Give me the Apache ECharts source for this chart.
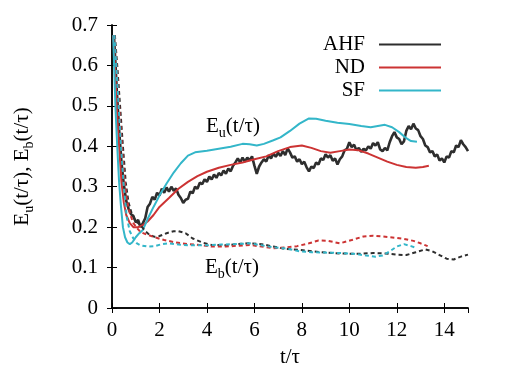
<!DOCTYPE html>
<html>
<head>
<meta charset="utf-8">
<script src="https://cdn.jsdelivr.net/npm/echarts@6/dist/echarts.min.js"></script>
<style>
    html, body { margin: 0; padding: 0; background: #fff; }
    #chart { width: 509px; height: 382px; }
</style>
</head>
<body>
<div id="chart"></div>
<script>
// E_u(t/tau), solid lines  ([t/tau, value])
const ahfEu = [[0.08,0.675],[0.15,0.6],[0.2,0.54],[0.3,0.44],[0.4,0.36],[0.5,0.305],[0.6,0.265],[0.7,0.245],[0.8,0.232],[0.9,0.228],[1.0,0.212],[1.1,0.218],[1.2,0.2],[1.3,0.21],[1.4,0.222],[1.5,0.25],[1.6,0.258],[1.7,0.275],[1.8,0.268],[1.9,0.285],[2.0,0.278],[2.1,0.295],[2.2,0.285],[2.3,0.298],[2.4,0.288],[2.5,0.3],[2.6,0.29],[2.7,0.296],[2.8,0.28],[2.9,0.272],[3.0,0.26],[3.1,0.268],[3.2,0.27],[3.3,0.288],[3.4,0.284],[3.5,0.3],[3.6,0.295],[3.7,0.31],[3.8,0.306],[3.9,0.318],[4.0,0.312],[4.1,0.325],[4.2,0.318],[4.3,0.33],[4.4,0.322],[4.5,0.334],[4.6,0.328],[4.7,0.34],[4.8,0.332],[4.9,0.345],[5.0,0.338],[5.1,0.352],[5.2,0.36],[5.3,0.37],[5.4,0.36],[5.5,0.372],[5.6,0.362],[5.7,0.372],[5.8,0.365],[5.9,0.375],[6.0,0.352],[6.1,0.332],[6.2,0.35],[6.3,0.36],[6.4,0.368],[6.5,0.362],[6.6,0.378],[6.7,0.37],[6.8,0.382],[6.9,0.374],[7.0,0.384],[7.1,0.376],[7.2,0.388],[7.3,0.378],[7.4,0.395],[7.5,0.385],[7.6,0.372],[7.7,0.375],[7.8,0.362],[7.9,0.368],[8.0,0.356],[8.1,0.362],[8.2,0.348],[8.3,0.338],[8.4,0.35],[8.5,0.346],[8.6,0.36],[8.7,0.355],[8.8,0.37],[8.9,0.366],[9.0,0.38],[9.1,0.372],[9.2,0.378],[9.3,0.364],[9.4,0.37],[9.5,0.355],[9.6,0.368],[9.7,0.375],[9.8,0.39],[9.9,0.394],[10.0,0.41],[10.1,0.398],[10.2,0.404],[10.3,0.39],[10.4,0.396],[10.5,0.386],[10.6,0.394],[10.7,0.39],[10.8,0.4],[10.9,0.394],[11.0,0.408],[11.1,0.402],[11.2,0.41],[11.3,0.392],[11.4,0.388],[11.5,0.396],[11.6,0.39],[11.7,0.41],[11.8,0.425],[11.9,0.435],[12.0,0.422],[12.1,0.418],[12.2,0.405],[12.3,0.412],[12.4,0.438],[12.5,0.45],[12.6,0.442],[12.7,0.456],[12.8,0.444],[12.9,0.44],[13.0,0.425],[13.1,0.418],[13.2,0.402],[13.3,0.398],[13.4,0.385],[13.5,0.388],[13.6,0.375],[13.7,0.38],[13.8,0.365],[13.9,0.37],[14.0,0.36],[14.1,0.375],[14.2,0.372],[14.3,0.388],[14.4,0.385],[14.5,0.402],[14.6,0.398],[14.7,0.415],[14.8,0.405],[14.9,0.398],[15.0,0.388]];
const ndEu = [[0.05,0.675],[0.12,0.6],[0.2,0.5],[0.3,0.4],[0.4,0.31],[0.5,0.26],[0.6,0.23],[0.75,0.21],[0.9,0.2],[1.1,0.2],[1.3,0.205],[1.5,0.214],[1.75,0.23],[2.0,0.25],[2.4,0.272],[2.8,0.295],[3.2,0.312],[3.6,0.326],[4.0,0.337],[4.5,0.347],[5.0,0.354],[5.5,0.36],[6.0,0.368],[6.5,0.375],[7.0,0.388],[7.5,0.398],[8.0,0.402],[8.4,0.396],[8.8,0.388],[9.2,0.384],[9.6,0.388],[10.0,0.392],[10.4,0.39],[10.8,0.382],[11.2,0.372],[11.6,0.362],[12.0,0.354],[12.4,0.349],[12.8,0.347],[13.1,0.349],[13.35,0.352]];
const sfEu = [[0.05,0.675],[0.1,0.58],[0.15,0.49],[0.22,0.4],[0.3,0.31],[0.38,0.25],[0.46,0.2],[0.55,0.175],[0.65,0.162],[0.75,0.158],[0.85,0.162],[1.0,0.175],[1.15,0.185],[1.3,0.193],[1.5,0.22],[1.75,0.25],[2.0,0.278],[2.3,0.308],[2.6,0.335],[2.9,0.358],[3.2,0.377],[3.5,0.385],[4.0,0.389],[4.5,0.394],[5.0,0.399],[5.5,0.406],[5.8,0.405],[6.1,0.402],[6.4,0.406],[6.8,0.415],[7.1,0.422],[7.5,0.438],[7.9,0.456],[8.3,0.469],[8.6,0.468],[9.0,0.463],[9.5,0.458],[10.0,0.455],[10.5,0.45],[10.9,0.447],[11.2,0.45],[11.5,0.453],[11.8,0.447],[12.1,0.435],[12.4,0.42],[12.6,0.413],[12.85,0.411]];

// E_b(t/tau), dashed lines
const ahfEb = [[0.12,0.675],[0.22,0.6],[0.34,0.5],[0.46,0.4],[0.58,0.31],[0.7,0.26],[0.85,0.23],[1.0,0.215],[1.2,0.205],[1.4,0.19],[1.6,0.18],[1.8,0.176],[2.0,0.178],[2.3,0.185],[2.6,0.19],[2.8,0.19],[3.1,0.185],[3.4,0.172],[3.8,0.162],[4.2,0.156],[4.8,0.155],[5.3,0.158],[5.8,0.16],[6.3,0.158],[6.8,0.152],[7.3,0.146],[7.9,0.144],[8.5,0.14],[9.0,0.137],[9.6,0.135],[10.4,0.134],[11.0,0.136],[11.5,0.135],[12.0,0.132],[12.4,0.131],[12.8,0.138],[13.2,0.145],[13.5,0.14],[13.8,0.131],[14.1,0.122],[14.4,0.12],[14.7,0.127],[15.0,0.132]];
const ndEb = [[0.1,0.675],[0.2,0.59],[0.3,0.5],[0.42,0.4],[0.52,0.32],[0.62,0.27],[0.75,0.235],[0.9,0.21],[1.05,0.198],[1.2,0.188],[1.45,0.182],[1.8,0.175],[2.2,0.168],[2.7,0.162],[3.2,0.158],[3.7,0.156],[4.2,0.152],[4.8,0.152],[5.3,0.154],[5.8,0.156],[6.3,0.152],[6.8,0.148],[7.3,0.15],[7.8,0.153],[8.3,0.16],[8.7,0.167],[9.1,0.166],[9.6,0.16],[10.1,0.168],[10.6,0.177],[11.0,0.179],[11.4,0.177],[11.9,0.174],[12.3,0.171],[12.7,0.166],[13.0,0.16],[13.3,0.153]];
const sfEb = [[0.1,0.675],[0.18,0.6],[0.28,0.5],[0.38,0.4],[0.5,0.3],[0.62,0.225],[0.75,0.19],[0.9,0.172],[1.05,0.16],[1.2,0.155],[1.5,0.152],[1.8,0.153],[2.1,0.158],[2.4,0.16],[2.8,0.157],[3.3,0.155],[4.0,0.155],[4.6,0.157],[5.2,0.158],[5.8,0.16],[6.3,0.155],[6.8,0.15],[7.4,0.147],[7.9,0.14],[8.4,0.138],[9.0,0.137],[9.6,0.136],[10.2,0.134],[10.7,0.13],[11.1,0.127],[11.4,0.13],[11.7,0.14],[12.0,0.152],[12.3,0.158],[12.6,0.153],[12.85,0.148]];

const legendNames = ["AHF", "ND", "SF"];
const colors = { AHF: "#2e2e2e", ND: "#cc3333", SF: "#33b6c9" };
const FONT = "'Liberation Serif', 'DejaVu Serif', 'Times New Roman', serif";

const chart = echarts.init(document.getElementById("chart"));

const subRich = {
    n: { fontFamily: FONT, fontSize: 21, lineHeight: 24, verticalAlign: "top", color: "#000" },
    s: { fontFamily: FONT, fontSize: 14, lineHeight: 12, verticalAlign: "bottom", color: "#000" },
};

const axisCommon = {
    min: 0,
    axisLine: { show: true, lineStyle: { color: "#000", width: 1.5 } },
    axisTick: { show: true, inside: true, length: 5, lineStyle: { color: "#000", width: 1 } },
    splitLine: { show: false },
};

function solid(name, data) {
    return {
        name: name, type: "line", data: data, symbol: "none", smooth: false,
        lineStyle: { color: colors[name], width: name === "AHF" ? 2.6 : 2 },
        itemStyle: { color: colors[name] },
        z: 2,
    };
}
function dashed(name, data) {
    return {
        name: name + "_b", type: "line", data: data, symbol: "none",
        lineStyle: { color: colors[name], width: 2, type: [4, 3] },
        itemStyle: { color: colors[name] },
        z: 3,
    };
}

const option = {
    animation: false,
    backgroundColor: "#fff",
    grid: { left: 112, right: 41, top: 25, bottom: 74 },
    legend: {
        data: legendNames,
        orient: "vertical",
        right: 68,
        top: 34,
        padding: 0,
        align: "right",
        icon: "rect",
        itemWidth: 62,
        itemHeight: 2,
        itemGap: 2,
        textStyle: { fontFamily: FONT, fontSize: 21, lineHeight: 21, color: "#000", padding: [0, 9, 0, 0] },
    },
    xAxis: [
        Object.assign({}, axisCommon, {
            type: "value", max: 15, interval: 2, position: "bottom",
            axisLabel: { fontFamily: FONT, fontSize: 21, color: "#000", margin: 12, showMaxLabel: false },
            name: "t/τ", nameLocation: "middle", nameGap: 39,
            nameTextStyle: { fontFamily: FONT, fontSize: 21, color: "#000" },
        }),
        Object.assign({}, axisCommon, {
            type: "value", max: 15, interval: 2, position: "top",
            axisLabel: { show: false },
        }),
    ],
    yAxis: [
        Object.assign({}, axisCommon, {
            type: "value", max: 0.7, interval: 0.1, position: "left",
            axisLabel: {
                fontFamily: FONT, fontSize: 21, color: "#000", margin: 14,
                formatter: (v) => (v === 0 ? "0" : v.toFixed(1)),
            },
            name: "{n|E}{s|u}{n|(t/τ), E}{s|b}{n|(t/τ)}",
            nameLocation: "middle", nameGap: 76,
            nameTextStyle: { rich: subRich },
        }),
        Object.assign({}, axisCommon, {
            type: "value", max: 0.7, interval: 0.1, position: "right",
            axisLabel: { show: false },
        }),
    ],
    graphic: [
        {
            type: "text", left: 206, top: 116,
            style: { text: "{n|E}{s|u}{n|(t/τ)}", rich: subRich },
        },
        {
            type: "text", left: 205, top: 257,
            style: { text: "{n|E}{s|b}{n|(t/τ)}", rich: subRich },
        },
    ],
    series: [
        solid("AHF", ahfEu),
        solid("ND", ndEu),
        solid("SF", sfEu),
        dashed("AHF", ahfEb),
        dashed("ND", ndEb),
        dashed("SF", sfEb),
    ],
};

chart.setOption(option);
</script>
</body>
</html>
